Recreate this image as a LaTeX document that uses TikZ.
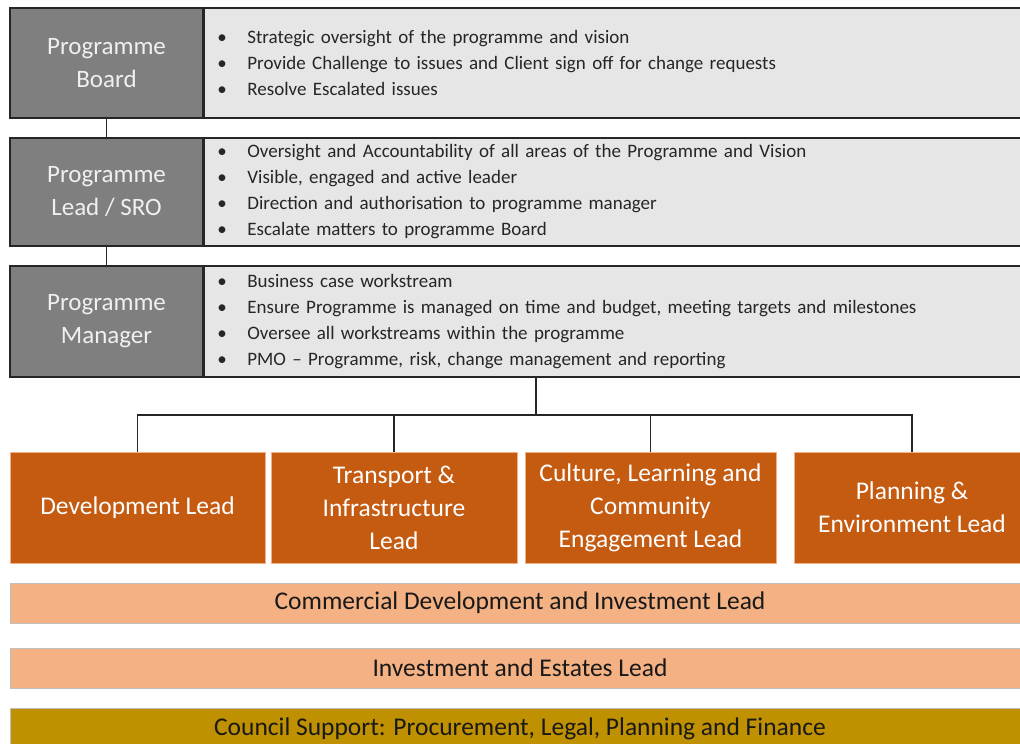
\documentclass[tikz,border=0pt]{standalone}
\usepackage{fontspec}
\setmainfont{Carlito}
\definecolor{leadgrey}{HTML}{7F7F7F}
\definecolor{infogrey}{HTML}{E7E6E6}
\definecolor{streamorange}{HTML}{C55A11}
\definecolor{streamedge}{HTML}{F4B183}
\definecolor{bandpeach}{HTML}{F4B183}
\definecolor{supportgold}{HTML}{BF9000}
\newcommand{\bul}[1]{\makebox[30pt][l]{\textbullet}#1}
\tikzset{
  lead/.style={draw=black!85,line width=1.4pt,fill=leadgrey,text=white!94!black,
    minimum width=193pt,inner sep=0pt,align=center,font=\fontsize{25}{33}\selectfont},
  info/.style={draw=black!85,line width=1.4pt,fill=infogrey,text=black!85,anchor=west,
    text width=790pt,inner xsep=13pt,inner ysep=0pt,align=left,font=\fontsize{19}{26}\selectfont},
  stream/.style={draw=streamedge,line width=1pt,fill=streamorange,text=white,inner sep=0pt,
    minimum height=111pt,align=center,font=\fontsize{25.5}{33}\selectfont},
  band/.style={draw=black!25,line width=1pt,fill=bandpeach,text=black!90,inner sep=0pt,
    minimum width=1020pt,minimum height=40pt,font=\fontsize{25.5}{30}\selectfont},
  link/.style={draw=black!85,line width=1.8pt}
}
\begin{document}
\begin{tikzpicture}[x=1pt,y=-1pt]
  \useasboundingbox (0,0) rectangle (1020,744);
  % programme levels
  \node[lead,minimum height=110pt] (board) at (106.5,63) {Programme\\Board};
  \node[info,minimum height=110pt] (boardinfo) at (board.east)
    {\bul{Strategic oversight of the programme and vision}\\
     \bul{Provide Challenge to issues and Client sign off for change requests}\\
     \bul{Resolve Escalated issues}};
  \node[lead,minimum height=108pt] (sro) at (106.5,192) {Programme\\Lead / SRO};
  \node[info,minimum height=108pt] (sroinfo) at (sro.east)
    {\bul{Oversight and Accountability of all areas of the Programme and Vision}\\
     \bul{Visible, engaged and active leader}\\
     \bul{Direction and authorisation to programme manager}\\
     \bul{Escalate matters to programme Board}};
  \node[lead,minimum height=111pt] (manager) at (106.5,321.5) {Programme\\Manager};
  \node[info,minimum height=111pt] (managerinfo) at (manager.east)
    {\bul{Business case workstream}\\
     \bul{Ensure Programme is managed on time and budget, meeting targets and milestones}\\
     \bul{Oversee all workstreams within the programme}\\
     \bul{PMO -- Programme, risk, change management and reporting}};
  \draw[link] (board.south) -- (sro.north);
  \draw[link] (sro.south) -- (manager.north);
  % workstream leads
  \node[stream,minimum width=255pt] (devlead) at (137.5,507.5) {Development Lead};
  \node[stream,minimum width=246pt] (translead) at (394,507.5) {Transport \&\\Infrastructure\\Lead};
  \node[stream,minimum width=251pt] (culturelead) at (650.5,507.5) {Culture, Learning and\\Community\\Engagement Lead};
  \node[stream,minimum width=236pt] (planlead) at (912,507.5) {Planning \&\\Environment Lead};
  \coordinate (hub) at (536,415);
  \draw[link] (managerinfo.south -| hub) -- (hub);
  \foreach \n in {devlead,translead,culturelead,planlead}
    \draw[link] (hub) -| (\n.north);
  % support bands
  \node[band] (commercial) at (520,603) {Commercial Development and Investment Lead};
  \node[band] (estates) at (520,668) {Investment and Estates Lead};
  \node[band,fill=supportgold,minimum height=42pt] (council) at (520,729) {Council Support: Procurement, Legal, Planning and Finance};
\end{tikzpicture}
\end{document}
